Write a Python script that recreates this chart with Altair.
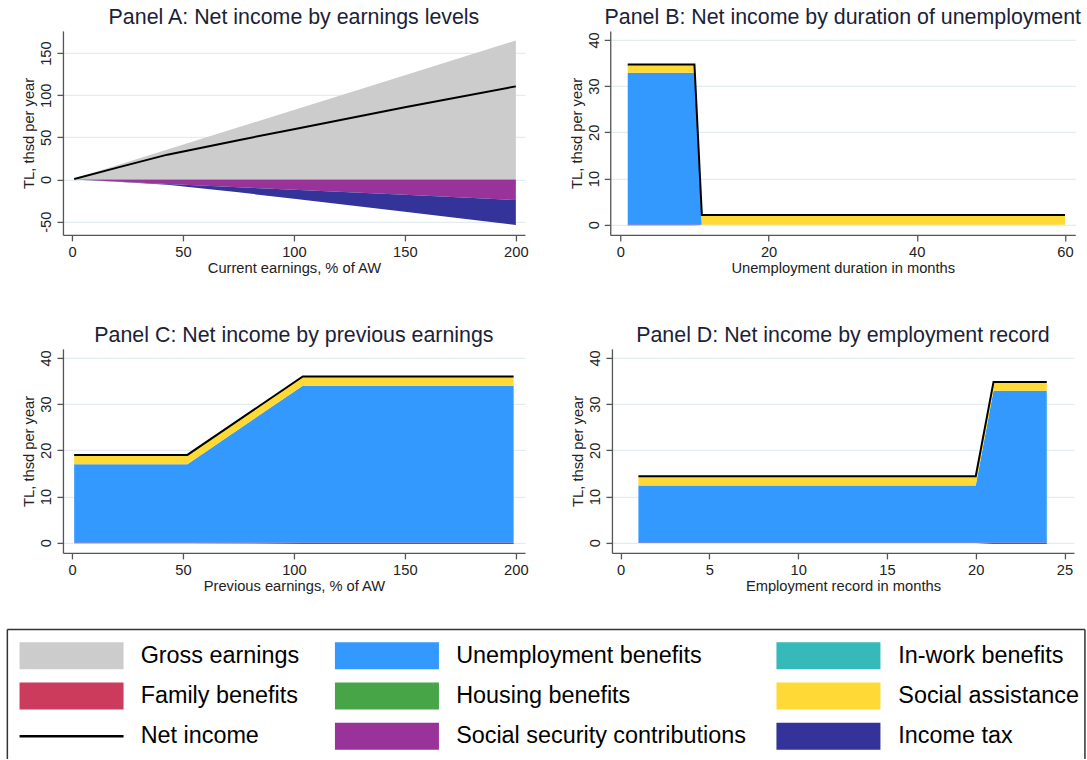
import altair as alt
import pandas as pd

FONT = "Liberation Sans"

# ---------------- legend / series definitions ----------------
series_names = ["Gross earnings", "Unemployment benefits", "In-work benefits",
                "Family benefits", "Housing benefits", "Social assistance",
                "Net income", "Social security contributions", "Income tax"]
series_colors = ["#cccccc", "#3399ff", "#35b9b9",
                 "#cc3a5c", "#47a447", "#ffd935",
                 "#000000", "#993399", "#333399"]

# ---------------- Panel A: by earnings level ----------------
a_x = [1, 20, 43, 75, 100, 150, 200]
a_gross = [0.8, 16.5, 35.5, 61.9, 82.5, 123.8, 165.0]
a_ssc = [0.1, 2.5, 5.3, 9.2, 12.0, 18.1, 24.3]
a_tax = [0.0, 0.3, 0.9, 6.0, 10.8, 20.0, 29.6]
a_net = [0.7, 13.8, 29.5, 46.7, 59.7, 85.7, 110.5]

# ---------------- Panel B: by unemployment duration ----------------
b_x = [1, 10, 11, 60]
b_ub = [32.9, 32.9, 0.0, 0.0]
b_sa = [1.8, 1.8, 2.1, 2.1]
b_ssc = [0.12, 0.12, 0.0, 0.0]
b_net = [34.7, 34.7, 2.1, 2.1]

# ---------------- Panel C: by previous earnings ----------------
c_x = [1, 52, 104, 199]
c_ub = [17.0, 17.0, 34.0, 34.0]
c_sa = [2.0, 2.0, 2.0, 2.0]
c_ssc = [0.1, 0.1, 0.1, 0.1]
c_tax = [0.0, 0.0, 0.15, 0.15]
c_net = [19.0, 19.0, 36.0, 36.0]

# ---------------- Panel D: by employment record ----------------
d_x = [1, 20, 21, 24]
d_ub = [12.4, 12.4, 32.9, 32.9]
d_sa = [2.0, 2.0, 1.9, 1.9]
d_ssc = [0.08, 0.08, 0.1, 0.1]
d_tax = [0.0, 0.0, 0.2, 0.2]
d_net = [14.4, 14.4, 34.8, 34.8]

color_scale = alt.Scale(domain=series_names, range=series_colors)


def area_frame(x, pos, neg):
    rows = []
    base = [0.0] * len(x)
    for name, vals in pos:
        for i, xv in enumerate(x):
            rows.append(dict(x=xv, series=name, lo=base[i], hi=base[i] + vals[i]))
        base = [b + v for b, v in zip(base, vals)]
    base = [0.0] * len(x)
    for name, vals in neg:
        for i, xv in enumerate(x):
            rows.append(dict(x=xv, series=name, lo=base[i] - vals[i], hi=base[i]))
        base = [b - v for b, v in zip(base, vals)]
    return pd.DataFrame(rows)


AXIS_COLOR = "#555555"
GRID_COLOR = "#e3edf0"
TEXT_COLOR = "#222222"
TITLE_COLOR = "#1a2238"
TICK_FS = 14.7
AXTITLE_FS = 14.7
TITLE_FS = 21.4


def panel(areas, nx, ny, title, xtitle, xdom, xticks, ydom, yticks, w, h):
    xaxis = alt.Axis(values=xticks, title=xtitle, grid=False, tickSize=6,
                     labelPadding=4, labelBaseline="top", labelFontSize=TICK_FS,
                     labelFont=FONT, labelColor=TEXT_COLOR, labelFlush=False,
                     labelOverlap=False, titleFont=FONT, titleFontSize=AXTITLE_FS,
                     titleFontWeight="normal", titleColor=TEXT_COLOR,
                     titleBaseline="alphabetic", titleY=37.6, titleX=w / 2,
                     titleAlign="center", domainColor=AXIS_COLOR, tickColor=AXIS_COLOR,
                     domainWidth=1.3, tickWidth=1.3)
    yaxis = alt.Axis(values=yticks, title="TL, thsd per year", grid=True,
                     gridColor=GRID_COLOR, gridWidth=1.2, tickSize=6,
                     labelExpr="'' + datum.value",
                     labelAngle=270, labelAlign="center", labelBaseline="alphabetic",
                     labelPadding=6, labelFontSize=TICK_FS, labelFont=FONT,
                     labelColor=TEXT_COLOR, labelFlush=False, labelOverlap=False,
                     titleAngle=270, titleAlign="center", titleBaseline="alphabetic",
                     titleX=-29, titleY=h / 2, titleFont=FONT, titleFontSize=AXTITLE_FS,
                     titleFontWeight="normal", titleColor=TEXT_COLOR,
                     domainColor=AXIS_COLOR, tickColor=AXIS_COLOR,
                     domainWidth=1.3, tickWidth=1.3)
    xs = alt.Scale(domain=xdom, nice=False, zero=False)
    ys = alt.Scale(domain=ydom, nice=False, zero=False)
    area = alt.Chart(areas).mark_area(opacity=1, interpolate="linear").encode(
        x=alt.X("x:Q", scale=xs, axis=xaxis),
        y=alt.Y("hi:Q", scale=ys, axis=yaxis),
        y2="lo:Q",
        color=alt.Color("series:N", scale=color_scale, legend=None),
        detail="series:N",
    )
    netdf = pd.DataFrame({"x": nx, "net": ny})
    line = alt.Chart(netdf).mark_line(color="black", strokeWidth=2).encode(
        x=alt.X("x:Q", scale=xs), y=alt.Y("net:Q", scale=ys))
    ttl = alt.Chart(pd.DataFrame({"t": [title]})).mark_text(
        align="center", baseline="alphabetic", font=FONT, fontSize=TITLE_FS,
        color=TITLE_COLOR).encode(x=alt.value(w / 2), y=alt.value(-7), text="t:N")
    return alt.layer(area, line, ttl).properties(width=w, height=h)


A = panel(area_frame(a_x, [("Gross earnings", a_gross)],
                     [("Social security contributions", a_ssc), ("Income tax", a_tax)]),
          a_x, a_net, "Panel A: Net income by earnings levels", "Current earnings, % of AW",
          [-4.06, 204.1], [0, 50, 100, 150, 200], [-65.7, 176.3], [-50, 0, 50, 100, 150],
          462, 204)
B = panel(area_frame(b_x, [("Unemployment benefits", b_ub), ("Social assistance", b_sa)],
                     [("Social security contributions", b_ssc)]),
          b_x, b_net, "Panel B: Net income by duration of unemployment",
          "Unemployment duration in months",
          [-1.36, 61.38], [0, 20, 40, 60], [-2.2, 41.95], [0, 10, 20, 30, 40], 465, 204)
C = panel(area_frame(c_x, [("Unemployment benefits", c_ub), ("Social assistance", c_sa)],
                     [("Social security contributions", c_ssc), ("Income tax", c_tax)]),
          c_x, c_net, "Panel C: Net income by previous earnings", "Previous earnings, % of AW",
          [-4.06, 204.1], [0, 50, 100, 150, 200], [-2.2, 41.95], [0, 10, 20, 30, 40],
          462, 204)
D = panel(area_frame(d_x, [("Unemployment benefits", d_ub), ("Social assistance", d_sa)],
                     [("Social security contributions", d_ssc), ("Income tax", d_tax)]),
          d_x, d_net, "Panel D: Net income by employment record", "Employment record in months",
          [-0.49, 25.53], [0, 5, 10, 15, 20, 25], [-2.2, 41.95], [0, 10, 20, 30, 40], 462, 204)

row1 = alt.hconcat(A, B, spacing=40.3)
row2 = alt.hconcat(C, D, spacing=42)

# ---------------- custom legend ----------------
leg = pd.DataFrame({
    "name": series_names,
    "row": [i // 3 for i in range(len(series_names))],
    "col": [i % 3 for i in range(len(series_names))],
})
LW, LH = 1022.0, 129.5
LEFT = -55.6
swatch_x = [8.6, 324.0, 765.5]
text_x = [77.7, 393.2, 835.4]
RECT = "M-1,-0.26H1V0.26H-1Z"
LINE = "M-1,0H1"
yleg = alt.Y("row:Q", scale=alt.Scale(domain=[-0.651, 2.566], reverse=True, nice=False, zero=False), axis=None)

leg_layers = []
for c in range(3):
    base = alt.Chart(leg).transform_filter(alt.datum.col == c)
    leg_layers.append(
        base.transform_filter(alt.datum.name != "Net income").mark_point(
            shape=RECT, size=104 * 104, filled=True, opacity=1, strokeWidth=0).encode(
            x=alt.value(swatch_x[c]), y=yleg,
            color=alt.Color("name:N", scale=color_scale, legend=None)))
    leg_layers.append(
        base.transform_filter(alt.datum.name == "Net income").mark_point(
            shape=LINE, size=104 * 104, filled=False, opacity=1, color="black",
            strokeWidth=2.5).encode(x=alt.value(swatch_x[c]), y=yleg))
    leg_layers.append(
        base.mark_text(align="left", baseline="middle", font=FONT, fontSize=23.4,
                       color="black").encode(x=alt.value(text_x[c]), y=yleg, text="name:N"))

one = pd.DataFrame({"k": [0]})
border_kw = dict(color="#333333", strokeWidth=1.5)
leg_layers.append(alt.Chart(one).mark_rule(**border_kw).encode(
    x=alt.value(LEFT), x2=alt.value(LW), y=alt.value(0)))
leg_layers.append(alt.Chart(one).mark_rule(**border_kw).encode(
    x=alt.value(LEFT), y=alt.value(0), y2=alt.value(LH)))
leg_layers.append(alt.Chart(one).mark_rule(**border_kw).encode(
    x=alt.value(LW), y=alt.value(0), y2=alt.value(LH)))

legend = alt.layer(*leg_layers).properties(width=LW, height=LH)

top = alt.vconcat(row1, row2, spacing=49)
chart = alt.vconcat(top, legend, spacing=34.6).properties(
    padding={"left": 5.95, "top": 6.9, "right": 0, "bottom": 0},
    background="white",
).configure_view(stroke=None)

chart.save("out.html", embed_options={"renderer": "svg", "actions": False})
